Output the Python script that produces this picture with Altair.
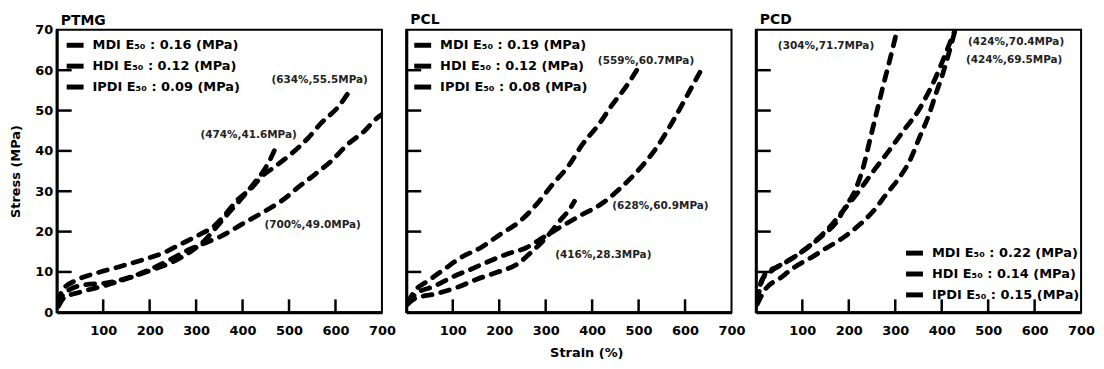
import altair as alt
import pandas as pd

FONT = "DejaVu Sans"

panels = ["PTMG", "PCL", "PCD"]
materials = ["MDI", "HDI", "IPDI"]
moduli = {"PTMG": [0.16, 0.12, 0.09], "PCL": [0.19, 0.12, 0.08], "PCD": [0.22, 0.14, 0.15]}

x_tick_labels = [100, 200, 300, 400, 500, 600, 700]
y_tick_labels = [0, 10, 20, 30, 40, 50, 60, 70]

# ---------------- PTMG ----------------
ptmg_mdi_x = [4, 12, 43, 85, 135, 185, 227, 269, 305, 340, 361, 386, 421, 440, 471, 506, 542, 570, 605, 634]
ptmg_mdi_y = [2.5, 5.5, 8.0, 9.7, 11.3, 13.0, 14.6, 17.0, 19.1, 21.5, 24.0, 27.5, 31.0, 33.5, 36.2, 39.4, 43.3, 47.0, 50.8, 55.5]
ptmg_hdi_x = [4, 15, 50, 100, 150, 200, 250, 290, 320, 345, 370, 400, 425, 445, 460, 474]
ptmg_hdi_y = [1.5, 3.5, 5.0, 6.5, 8.3, 10.3, 12.5, 15.2, 18.0, 21.3, 24.6, 28.5, 32.0, 35.0, 38.0, 41.6]
ptmg_ipdi_x = [4, 15, 50, 114, 163, 206, 248, 284, 326, 351, 400, 450, 485, 520, 556, 591, 626, 662, 690, 700]
ptmg_ipdi_y = [2.0, 4.5, 6.6, 7.4, 8.9, 10.9, 13.3, 15.5, 17.5, 18.7, 21.9, 25.2, 27.7, 31.0, 34.2, 37.5, 41.6, 44.9, 48.2, 49.0]
ptmg_notes = ["(634%,55.5MPa)", "(474%,41.6MPa)", "(700%,49.0MPa)"]
ptmg_note_x = [566, 413, 551]
ptmg_note_y = [57.5, 44.0, 21.6]

# ---------------- PCL ----------------
pcl_mdi_x = [3, 19, 47, 82, 118, 160, 202, 245, 280, 315, 351, 379, 414, 443, 471, 497]
pcl_mdi_y = [2.5, 5.4, 7.8, 10.7, 13.6, 16.0, 19.3, 22.6, 26.7, 31.7, 36.6, 41.6, 46.5, 51.4, 55.6, 60.2]
pcl_hdi_x = [3, 20, 61, 104, 138, 173, 216, 258, 294, 333, 375, 418, 462, 504, 538, 574, 601, 632]
pcl_hdi_y = [2.5, 4.5, 6.5, 9.0, 10.6, 12.4, 14.4, 16.0, 18.5, 21.2, 24.0, 26.7, 30.9, 35.8, 40.7, 47.4, 53.0, 59.5]
pcl_ipdi_x = [3, 20, 61, 110, 152, 195, 238, 272, 301, 330, 351, 362]
pcl_ipdi_y = [2.0, 3.5, 4.5, 6.2, 8.2, 9.9, 11.9, 15.2, 18.5, 22.6, 25.5, 27.5]
pcl_notes = ["(559%,60.7MPa)", "(628%,60.9MPa)", "(416%,28.3MPa)"]
pcl_note_x = [516, 547, 424]
pcl_note_y = [62.2, 26.4, 14.3]

# ---------------- PCD ----------------
pcd_mdi_x = [3, 12, 33, 69, 111, 146, 175, 192, 213, 231, 245, 259, 273, 288, 300, 308]
pcd_mdi_y = [2.5, 7.8, 10.2, 12.7, 16.0, 19.3, 22.6, 26.0, 30.1, 35.9, 42.5, 49.1, 55.7, 62.4, 68.0, 71.7]
pcd_hdi_x = [3, 19, 50, 90, 128, 164, 190, 217, 238, 259, 281, 302, 323, 345, 366, 387, 408, 430]
pcd_hdi_y = [3.0, 9.3, 11.5, 14.3, 17.7, 21.8, 25.5, 29.3, 32.6, 35.9, 39.2, 42.5, 45.8, 49.1, 53.3, 58.2, 64.0, 70.4]
pcd_ipdi_x = [3, 18, 54, 82, 118, 153, 188, 224, 253, 281, 309, 331, 352, 373, 387, 402, 416, 428]
pcd_ipdi_y = [2.0, 5.3, 8.6, 11.1, 13.5, 16.0, 18.5, 21.8, 25.1, 29.3, 33.4, 37.5, 43.3, 49.1, 54.0, 59.0, 64.5, 69.5]
pcd_notes = ["(304%,71.7MPa)", "(424%,70.4MPa)", "(424%,69.5MPa)"]
pcd_note_x = [151, 560, 556]
pcd_note_y = [65.9, 66.9, 62.5]

curves = {
    "PTMG": [(ptmg_mdi_x, ptmg_mdi_y), (ptmg_hdi_x, ptmg_hdi_y), (ptmg_ipdi_x, ptmg_ipdi_y)],
    "PCL": [(pcl_mdi_x, pcl_mdi_y), (pcl_hdi_x, pcl_hdi_y), (pcl_ipdi_x, pcl_ipdi_y)],
    "PCD": [(pcd_mdi_x, pcd_mdi_y), (pcd_hdi_x, pcd_hdi_y), (pcd_ipdi_x, pcd_ipdi_y)],
}
notes = {
    "PTMG": (ptmg_notes, ptmg_note_x, ptmg_note_y),
    "PCL": (pcl_notes, pcl_note_x, pcl_note_y),
    "PCD": (pcd_notes, pcd_note_x, pcd_note_y),
}

W, H = 327, 284
legend_pos = {"PTMG": (11, 8), "PCL": (9, 8), "PCD": (152, 217)}
title_offset = {"PTMG": -4, "PCL": 3, "PCD": 3}


def make_panel(name, idx):
    labels = [f"{m} E₅₀ : {v:.2f} (MPa)" for m, v in zip(materials, moduli[name])]
    rows = []
    for lab, (xs_, ys_) in zip(labels, curves[name]):
        for i, (a, b) in enumerate(zip(xs_, ys_)):
            rows.append({"label": lab, "strain": a, "stress": b, "order": i})
    df = pd.DataFrame(rows)

    xs = alt.Scale(domain=[0, 700], nice=False, zero=False)
    ys = alt.Scale(domain=[0, 70], nice=False)

    x_axis = alt.Axis(
        values=x_tick_labels, labelFlush=False, labelFontSize=13, labelFontWeight="bold",
        labelPadding=12, labelColor="black", ticks=False, domain=True, domainWidth=3,
        domainColor="black", grid=False,
        title="Strain (%)" if idx == 1 else None,
        titleFontSize=13, titleFontWeight="bold", titlePadding=9, titleColor="black",
        titleX=181,
    )
    if idx == 0:
        y_axis = alt.Axis(
            values=y_tick_labels, labelFontSize=13, labelFontWeight="bold", labelPadding=4,
            labelColor="black", ticks=False, domain=True, domainWidth=3, domainColor="black",
            grid=False, title="Stress (MPa)", titleFontSize=13, titleFontWeight="bold",
            titlePadding=12, titleColor="black",
        )
    else:
        y_axis = alt.Axis(
            values=y_tick_labels, labels=False, ticks=False, domain=True, domainWidth=3,
            domainColor="black", grid=False, title=None,
        )

    lx, ly = legend_pos[name]
    lines = alt.Chart(df).mark_line(
        strokeWidth=4.8, strokeDash=[9, 9], strokeCap="round", interpolate="monotone", clip=True
    ).encode(
        x=alt.X("strain:Q", scale=xs, axis=x_axis),
        y=alt.Y("stress:Q", scale=ys, axis=y_axis),
        order="order:Q",
        color=alt.Color(
            "label:N",
            scale=alt.Scale(domain=labels, range=["black", "black", "black"]),
            legend=alt.Legend(
                title=None, orient="none", legendX=lx, legendY=ly,
                symbolType="M-1.7,0H1.7", symbolStrokeWidth=5, symbolSize=100,
                symbolDash=[20, 0], labelFontSize=13, labelFontWeight="bold", labelFont=FONT,
                labelColor="black", labelOffset=10, rowPadding=0, padding=0,
            ),
        ),
    )

    ytick_df = pd.DataFrame({"strain": [0] * 6, "stress": y_tick_labels[1:-1]})
    yticks = alt.Chart(ytick_df).mark_rule(color="black", strokeWidth=2.5).encode(
        y=alt.Y("stress:Q", scale=ys, axis=y_axis), x=alt.value(0), x2=alt.value(15)
    )
    xtick_df = pd.DataFrame({"strain": x_tick_labels[:-1]})
    xticks = alt.Chart(xtick_df).mark_rule(color="black", strokeWidth=2.5).encode(
        x=alt.X("strain:Q", scale=xs, axis=x_axis), y=alt.value(H - 13), y2=alt.value(H)
    )

    ntext, nx, ny = notes[name]
    ndf = pd.DataFrame({"t": ntext, "strain": nx, "stress": ny})
    ann = alt.Chart(ndf).mark_text(
        font=FONT, fontSize=10.5, fontWeight="bold", color="#222222", align="center", baseline="middle"
    ).encode(
        x=alt.X("strain:Q", scale=xs, axis=x_axis),
        y=alt.Y("stress:Q", scale=ys, axis=y_axis),
        text="t:N",
    )

    return alt.layer(lines, yticks, xticks, ann).properties(
        width=W, height=H,
        title=alt.TitleParams(name, anchor="start", frame="group", fontSize=14, fontWeight="bold",
                              font=FONT, color="black", offset=title_offset[name], dx=4),
    )


chart = alt.hconcat(
    *[make_panel(n, i) for i, n in enumerate(panels)], spacing=6.5
).resolve_scale(color="independent").configure(
    font=FONT, padding={"left": 0, "top": 3, "right": 0, "bottom": 0}
).configure_view(stroke="black", strokeWidth=2)

chart.save("out.html", embed_options={"renderer": "svg", "actions": False})
